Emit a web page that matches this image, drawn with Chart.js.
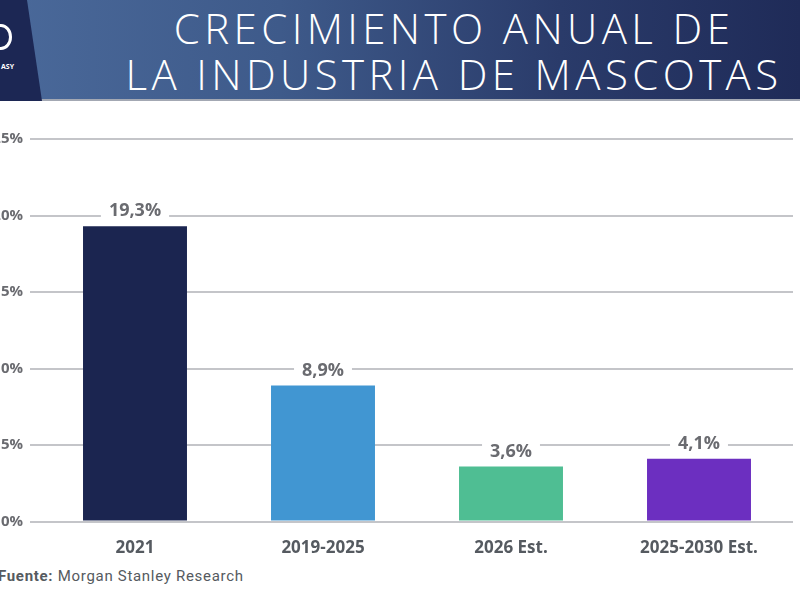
<!DOCTYPE html>
<html>
<head>
<meta charset="utf-8">
<script src="https://cdn.jsdelivr.net/npm/chart.js"></script>
<style>
  html, body { margin: 0; padding: 0; background: #fff; }
  body { width: 800px; height: 600px; position: relative; overflow: hidden; font-family: "Open Sans", sans-serif; }
  #header {
    position: absolute; left: 0; top: 0; width: 800px; height: 99px;
    background: linear-gradient(90deg, #4a699a 0%, #3e5a8a 35%, #2a3b6a 70%, #1f2b58 100%);
    border-bottom: 2px solid #a3a8b3;
  }
  #logo {
    position: absolute; left: 0; top: 0; height: 101px; width: 44px;
    background: #1c2754;
    clip-path: polygon(0 0, 27px 0, 42px 101px, 0 101px);
  }
  #logo .mark { position: absolute; left: -10px; top: 24px; width: 16px; height: 20px; border: 3px solid #fff; border-radius: 50%; }
  #logo .txt { position: absolute; left: 1px; top: 62px; color: #fff; font: bold 7px "Open Sans", sans-serif; }
  #title {
    position: absolute; left: 0; top: 5px; width: 800px; padding-left: 108px; box-sizing: border-box;
    color: #fff; font-family: "Open Sans", sans-serif; font-weight: 300; font-size: 42px;
    line-height: 46px; text-align: center; letter-spacing: 4.4px;
  }
  #wrap { position: absolute; left: 0; top: 123px; width: 800px; height: 443px; }
  #fuente { position: absolute; left: -2px; top: 567px; font-family: Roboto, sans-serif; font-size: 15px; letter-spacing: 0.7px; color: #555a60; }
  #fuente b { font-weight: 700; }
</style>
</head>
<body>
<div id="header">
  <div id="logo"><div class="mark"></div><div class="txt">ASY</div></div>
  <div id="title">CRECIMIENTO ANUAL DE<br>LA INDUSTRIA DE MASCOTAS</div>
</div>
<div id="wrap"><canvas id="chart" width="800" height="443"></canvas></div>
<div id="fuente"><b>Fuente:</b> Morgan Stanley Research</div>
<script>
const categorias = ['2021', '2019-2025', '2026 Est.', '2025-2030 Est.'];
const crecimiento = [19.3, 8.9, 3.6, 4.1];
const etiquetas = ['19,3%', '8,9%', '3,6%', '4,1%'];
const colores = ['#1b2550', '#4196d2', '#4fbe93', '#6c2fc0'];
const ticksY = [0, 5, 10, 15, 20, 25];

// etiquetas de valor con fondo blanco encima de cada barra
const etiquetasPlugin = {
  id: 'etiquetas',
  afterDatasetsDraw(chart) {
    const ctx = chart.ctx;
    const meta = chart.getDatasetMeta(0);
    ctx.save();
    ctx.font = 'bold 18px "Open Sans", sans-serif';
    ctx.textAlign = 'center';
    ctx.textBaseline = 'middle';
    meta.data.forEach(function(bar, i) {
      const txt = etiquetas[i];
      const w = ctx.measureText(txt).width + 16;
      const y = bar.y - 15;
      ctx.fillStyle = '#fff';
      ctx.fillRect(bar.x - w / 2, y - 10, w, 20);
      ctx.fillStyle = '#6a6b70';
      ctx.fillText(txt, bar.x, y);
    });
    ctx.restore();
  }
};

const ctx = document.getElementById('chart').getContext('2d');
const chart = new Chart(ctx, {
  type: 'bar',
  data: {
    labels: categorias,
    datasets: [{
      data: crecimiento,
      backgroundColor: colores,
      borderWidth: 0,
      barPercentage: 0.553,
      categoryPercentage: 1
    }]
  },
  options: {
    responsive: false,
    animation: false,
    layout: { padding: { top: 10, right: 7, left: 0, bottom: 0 } },
    plugins: { legend: { display: false }, tooltip: { enabled: false } },
    scales: {
      x: {
        grid: { display: false },
        border: { display: false },
        ticks: { color: '#555a60', font: { family: 'Open Sans', size: 17, weight: 'bold' }, padding: 8 }
      },
      y: {
        min: 0,
        max: 25,
        afterFit: function(scale) { scale.width = 41; },
        afterBuildTicks: function(scale) { scale.ticks = ticksY.map(function(v) { return { value: v }; }); },
        grid: { color: '#c4c5c9', lineWidth: 2, tickLength: 11 },
        border: { display: false },
        ticks: {
          color: '#6a6b70',
          padding: 7,
          font: { family: 'Open Sans', size: 15, weight: 'bold' },
          callback: function(v) { return v + '%'; }
        }
      }
    }
  },
  plugins: [etiquetasPlugin]
});
</script>
</body>
</html>
